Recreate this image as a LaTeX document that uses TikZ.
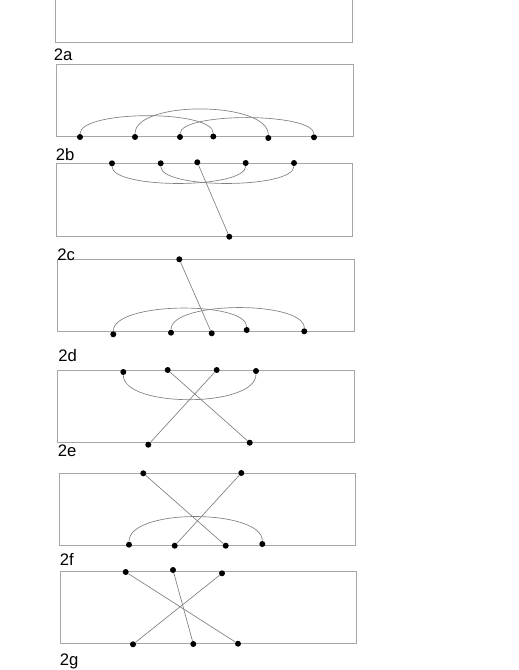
\documentclass[tikz,border=0pt]{standalone}
\usepackage{fontspec}
\setmainfont{Liberation Sans}
\usetikzlibrary{calc}
\tikzset{
  panel/.style={draw=black!35, line width=0.75pt},
  dot/.style={circle, fill=black, draw=none, inner sep=0pt, minimum size=4.5pt},
  link/.style={draw=black!50, line width=0.5pt},
  lab/.style={anchor=west, inner sep=0pt, font=\fontsize{12.5}{14}\selectfont}
}
\begin{document}
\begin{tikzpicture}[x=0.75pt,y=-0.75pt]
\useasboundingbox (0,0) rectangle (518,670);
% panels
\draw[panel] (55,-3) rectangle (352.3,42.7);
\draw[panel] (56.7,64.3) rectangle (353.3,137);
\draw[panel] (56,163.3) rectangle (352.7,236);
\draw[panel] (57.7,259.3) rectangle (354.3,331.7);
\draw[panel] (57.7,370.7) rectangle (354.3,442.3);
\draw[panel] (59.3,473.3) rectangle (355.3,545.3);
\draw[panel] (60.3,571.3) rectangle (356.3,643.7);
% labels
\node[lab] (la) at (53.5,55) {2a};
\node[lab] (lb) at (55.5,155) {2b};
\node[lab] (lc) at (57,255) {2c};
\node[lab] (ld) at (58,355.5) {2d};
\node[lab] (le) at (57.5,450.5) {2e};
\node[lab] (lf) at (59.5,559) {2f};
\node[lab] (lg) at (59.5,661) {2g};
% 2b
\node[dot] (b1) at (80,137) {};
\node[dot] (b2) at (135,137) {};
\node[dot] (b3) at (180,137) {};
\node[dot] (b4) at (213.3,136.5) {};
\node[dot] (b5) at (268.3,138) {};
\node[dot] (b6) at (314,137.3) {};
\draw[link] (b1) .. controls ($(b1)+(0,-27)$) and ($(b4)+(0,-27)$) .. (b4);
\draw[link] (b2) .. controls ($(b2)+(0,-37)$) and ($(b5)+(0,-37)$) .. (b5);
\draw[link] (b3) .. controls ($(b3)+(0,-25)$) and ($(b6)+(0,-25)$) .. (b6);
% 2c
\node[dot] (c1) at (112,163.3) {};
\node[dot] (c2) at (160.7,163.3) {};
\node[dot] (c3) at (197.3,162.3) {};
\node[dot] (c4) at (245.7,163) {};
\node[dot] (c5) at (294,163) {};
\node[dot] (c6) at (229.3,236.7) {};
\draw[link] (c1) .. controls ($(c1)+(0,26)$) and ($(c4)+(0,26)$) .. (c4);
\draw[link] (c2) .. controls ($(c2)+(0,26)$) and ($(c5)+(0,26)$) .. (c5);
\draw[link] (c3) -- (c6);
% 2d
\node[dot] (d0) at (179.3,259.3) {};
\node[dot] (d1) at (113.3,334.3) {};
\node[dot] (d2) at (171,332.7) {};
\node[dot] (d3) at (211.7,333.3) {};
\node[dot] (d4) at (246.7,330) {};
\node[dot] (d5) at (304.3,331.3) {};
\draw[link] (d1) .. controls ($(d1)+(0,-33)$) and ($(d4)+(0,-29)$) .. (d4);
\draw[link] (d2) .. controls ($(d2)+(0,-32)$) and ($(d5)+(0,-31)$) .. (d5);
\draw[link] (d0) -- (d3);
% 2e
\node[dot] (e1) at (123.3,372) {};
\node[dot] (e2) at (167.7,370) {};
\node[dot] (e3) at (216.7,370) {};
\node[dot] (e4) at (256,371) {};
\node[dot] (e5) at (148.3,444.7) {};
\node[dot] (e6) at (249.7,442.7) {};
\draw[link] (e1) .. controls ($(e1)+(0,36)$) and ($(e4)+(0,37)$) .. (e4);
\draw[link] (e2) -- (e6);
\draw[link] (e3) -- (e5);
% 2f
\node[dot] (f1) at (143.3,473.3) {};
\node[dot] (f2) at (241.3,473) {};
\node[dot] (f3) at (129,544.7) {};
\node[dot] (f4) at (174.7,545.7) {};
\node[dot] (f5) at (225.7,545.7) {};
\node[dot] (f6) at (262.3,544) {};
\draw[link] (f3) .. controls ($(f3)+(0,-37)$) and ($(f6)+(0,-35)$) .. (f6);
\draw[link] (f1) -- (f5);
\draw[link] (f2) -- (f4);
% 2g
\node[dot] (g1) at (125.7,572) {};
\node[dot] (g2) at (173,570) {};
\node[dot] (g3) at (222,573.3) {};
\node[dot] (g4) at (133,644.3) {};
\node[dot] (g5) at (193.3,644) {};
\node[dot] (g6) at (238,643.7) {};
\draw[link] (g1) -- (g6);
\draw[link] (g2) -- (g5);
\draw[link] (g3) -- (g4);
\end{tikzpicture}
\end{document}
